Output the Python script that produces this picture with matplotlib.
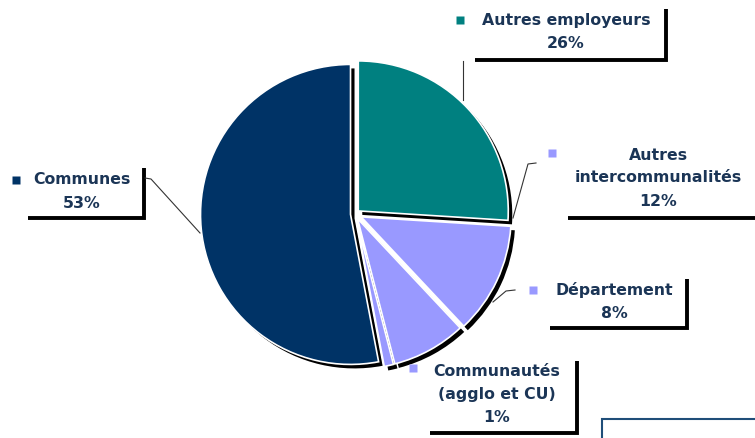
import matplotlib
matplotlib.use('Agg')
import matplotlib.pyplot as plt
from matplotlib.patches import Rectangle

# données
labels = ['Autres employeurs', 'Autres\nintercommunalités', 'Département',
          'Communautés\n(agglo et CU)', 'Communes']
values = [26, 12, 8, 1, 53]
pcts = ['26%', '12%', '8%', '1%', '53%']
colors = ['#008080', '#9999FF', '#9999FF', '#9999FF', '#003366']
explode = [0.03, 0.045, 0.035, 0.035, 0.03]

W, H = 755, 438
txt_col = '#1B3556'

fig = plt.figure(figsize=(7.55, 4.38), dpi=100)
ax = fig.add_axes([0, 0, 1, 1])

cx, cy, r = 355, H - 214, 150
expl = [e * r for e in explode]

# ombre noire sous le camembert
ax.pie(values, colors=['black'] * 5, explode=expl, startangle=90, counterclock=False,
       radius=r, center=(cx + 4, cy - 4), wedgeprops=dict(linewidth=0))
ax.pie(values, colors=colors, explode=expl, startangle=90, counterclock=False,
       radius=r, center=(cx, cy), wedgeprops=dict(edgecolor='white', linewidth=1.2))

ax.set_xlim(0, W)
ax.set_ylim(0, H)
ax.set_aspect('equal')
ax.axis('off')


def py(y):
    return H - y


# étiquettes : (index, marqueur, centre texte x, y premiere ligne, boite L, B, R, T)
lab_layout = [
    (0, (460, 20), 566, 20, (475, 60, 666, 9)),
    (1, (552, 153), 658, 155, (568, 218, 760, 143)),
    (2, (533, 290), 614, 290, (550, 328, 687, 279)),
    (3, (413, 368), 497, 372, (430, 433, 577, 361)),
    (4, (16, 180), 82, 180, (28, 218, 144, 168)),
]
lh = 23

for i, mk, tx, ty, box in lab_layout:
    lines = labels[i].split('\n') + [pcts[i]]
    for k, s in enumerate(lines):
        ax.text(tx, py(ty + k * lh), s, ha='center', va='center', fontsize=11.3,
                fontweight='bold', color=txt_col)
    ax.plot(mk[0], py(mk[1]), marker='s', ms=6, color=colors[i], mec='none')
    L, B, R, T = box
    ax.plot([L, R, R], [py(B), py(B), py(T)], color='black', lw=2.8,
            solid_capstyle='butt', solid_joinstyle='miter', clip_on=False)

# traits de rappel
leaders = [
    ([463, 463], [61, 100]),
    ([536, 528, 513], [163, 164, 218]),
    ([515, 506, 493], [290, 291, 302]),
    ([145, 151, 200], [178, 179, 233]),
]
for xs, ys in leaders:
    ax.plot(xs, [py(y) for y in ys], color='#333333', lw=0.8)

# cadre bleu en bas a droite
ax.add_patch(Rectangle((602, -20), 200, py(419) + 20, fill=False,
                       edgecolor='#1F4E79', lw=1.5, clip_on=False))

fig.savefig('out.png', dpi=100, facecolor='white')
